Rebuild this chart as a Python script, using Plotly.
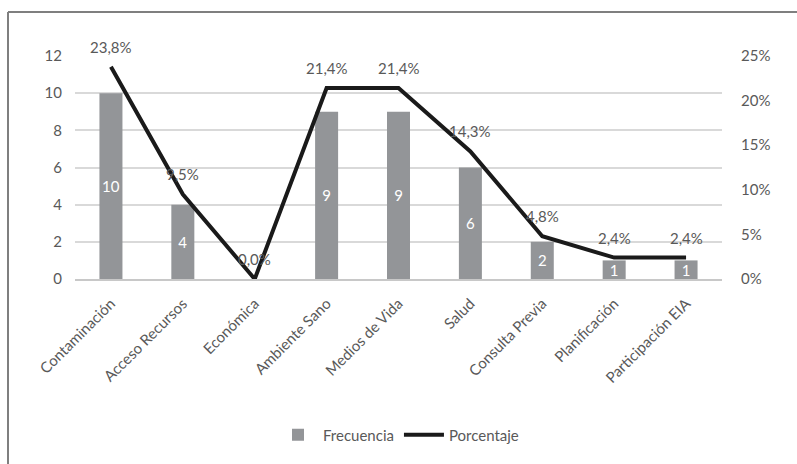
import plotly.graph_objects as go

categorias = ["Contaminación", "Acceso Recursos", "Económica", "Ambiente Sano",
              "Medios de Vida", "Salud", "Consulta Previa", "Planificación",
              "Participación EIA"]
frecuencia = [10, 4, 0, 9, 9, 6, 2, 1, 1]
porcentaje = [0.238, 0.095, 0.0, 0.214, 0.214, 0.143, 0.048, 0.024, 0.024]

texto_pct = [f"{p*100:.1f}%".replace(".", ",") for p in porcentaje]
texto_frec = [str(f) if f > 0 else "" for f in frecuencia]

FONT = "Lato, Carlito, Calibri, sans-serif"
GRIS_TXT = "#595959"

fig = go.Figure()
fig.add_trace(go.Bar(
    x=categorias, y=frecuencia, name="Frecuencia",
    marker=dict(color="#939598", line=dict(width=0)),
    width=0.32,
    text=texto_frec, textposition="inside", insidetextanchor="middle",
    textangle=0, constraintext="none",
    textfont=dict(color="white", size=15, family=FONT),
    cliponaxis=False,
))
fig.add_trace(go.Scatter(
    x=categorias, y=porcentaje, name="Porcentaje", yaxis="y2",
    mode="lines", line=dict(color="#1a1a1a", width=4),
    cliponaxis=False,
))

# percentage labels placed above each point of the line
anotaciones = [
    dict(x=c, y=p, xref="x", yref="y2", text=t, showarrow=False,
         yshift=20, font=dict(color=GRIS_TXT, size=15, family=FONT))
    for c, p, t in zip(categorias, porcentaje, texto_pct)
]

# left and top frame lines around the chart
L, R, T, B = 75, 722, 56, 279
def px_x(p):
    return (p - L) / (R - L)
def px_y(p):
    return (B - p) / (B - T)

fig.update_layout(
    width=797, height=464,
    margin=dict(l=L, r=797 - R, t=T, b=464 - B),
    paper_bgcolor="white", plot_bgcolor="white",
    font=dict(family=FONT, size=15, color=GRIS_TXT),
    showlegend=True,
    legend=dict(orientation="h", x=0.5, xanchor="center", y=px_y(435), yanchor="middle",
                font=dict(size=15, color=GRIS_TXT), itemwidth=40, traceorder="normal"),
    xaxis=dict(showgrid=False, showline=True, linecolor="#c8c8c8", linewidth=2,
               tickangle=-45, ticks="", ticklabelstandoff=8,
               tickfont=dict(size=15, color=GRIS_TXT)),
    yaxis=dict(range=[0, 12], dtick=2, showgrid=True, gridcolor="#d9d9d9", gridwidth=1.5,
               zeroline=False, ticks="", ticklabelstandoff=12,
               tickfont=dict(size=15, color=GRIS_TXT)),
    yaxis2=dict(range=[0, 0.25], dtick=0.05, tickformat=".0%", overlaying="y", side="right",
                showgrid=False, zeroline=False, ticks="", ticklabelstandoff=18,
                tickfont=dict(size=15, color=GRIS_TXT)),
    annotations=anotaciones,
    shapes=[
        dict(type="line", xref="paper", yref="paper", x0=px_x(8), x1=px_x(800),
             y0=px_y(12), y1=px_y(12), line=dict(color="#7f7f7f", width=2)),
        dict(type="line", xref="paper", yref="paper", x0=px_x(8), x1=px_x(8),
             y0=px_y(12), y1=px_y(470), line=dict(color="#7f7f7f", width=2)),
    ],
    separators=",.",
)

fig.write_html("out.html")
